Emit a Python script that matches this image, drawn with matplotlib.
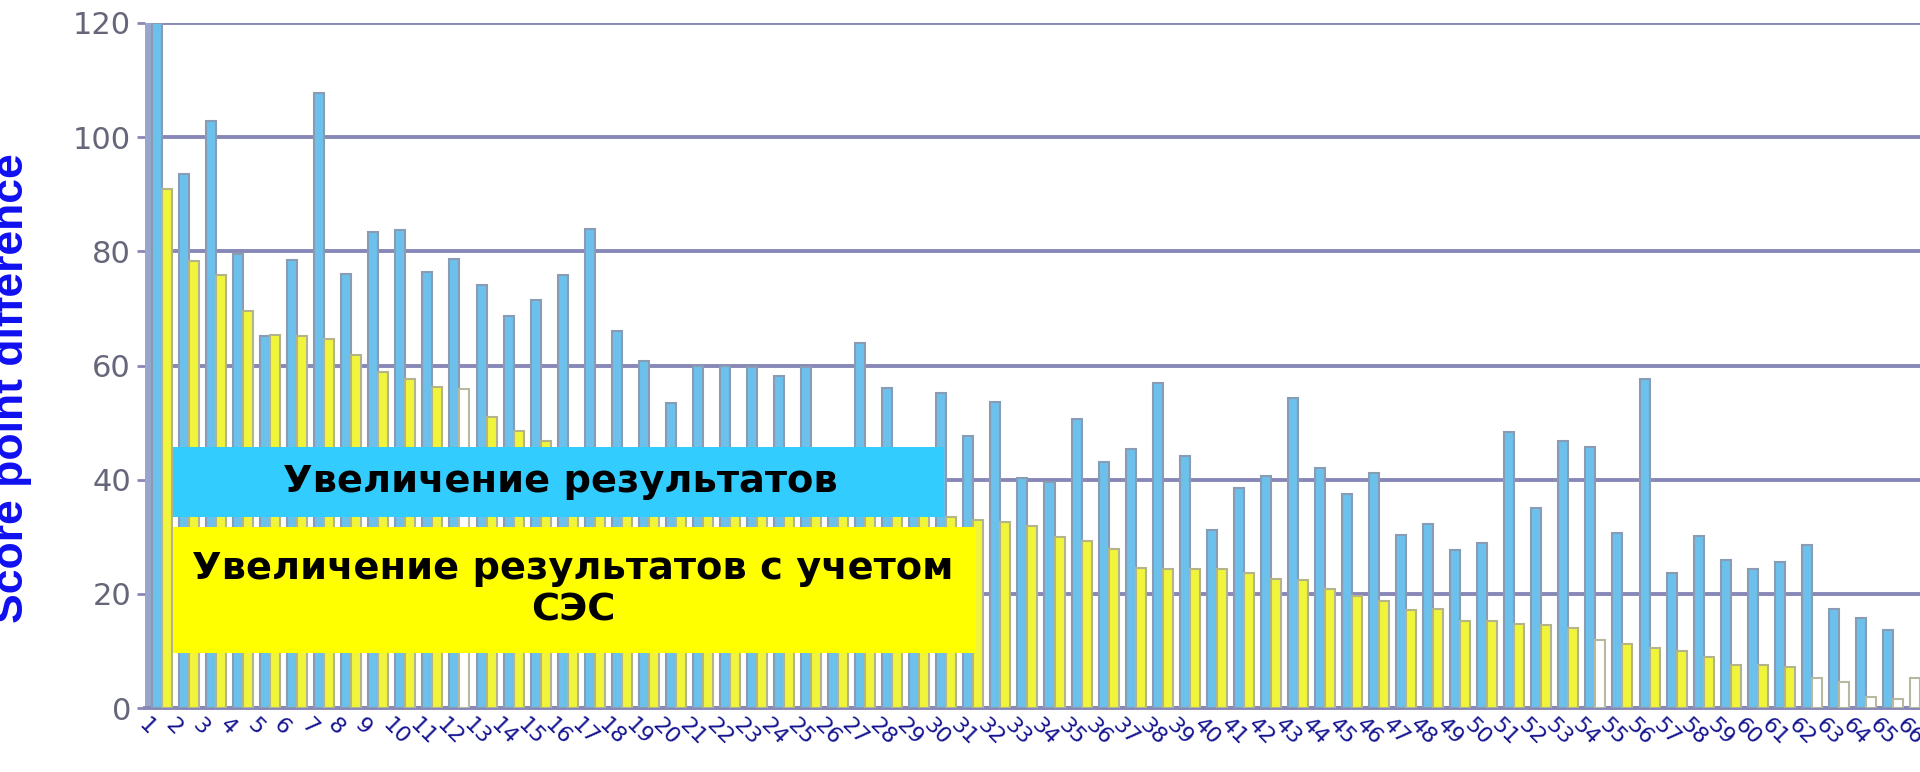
import numpy as np
import matplotlib.pyplot as plt
import matplotlib.transforms as mtransforms
from matplotlib.patches import Rectangle

# categories 1..66 (sorted by the SES-adjusted gain)
categories = [str(i) for i in range(1, 67)]

# blue series: score gain
gain = [120, 93.6, 102.8, 79.6, 65.1, 78.5, 107.8, 76.0, 83.4, 83.7,
        76.4, 78.7, 74.1, 68.7, 71.4, 75.9, 84.0, 66.1, 60.8, 53.4,
        59.9, 59.9, 59.8, 58.2, 59.8, 43.0, 64.0, 56.0, 41.0, 55.2,
        47.6, 53.6, 40.3, 39.6, 50.7, 43.1, 45.3, 56.9, 44.2, 31.2,
        38.6, 40.7, 54.3, 42.0, 37.5, 41.2, 30.3, 32.3, 27.7, 28.9,
        48.3, 35.1, 46.7, 45.7, 30.6, 57.6, 23.7, 30.2, 26.0, 24.3,
        25.5, 28.5, 17.4, 15.8, 13.7, 5.2]

# yellow series: gain adjusted for SES
gain_ses = [90.9, 78.3, 75.9, 69.6, 65.3, 65.1, 64.6, 61.9, 58.8, 57.7,
            56.3, 55.8, 50.9, 48.6, 46.7, 45.0, 44.5, 44.0, 43.0, 42.0,
            41.0, 40.0, 39.0, 38.0, 37.2, 36.4, 35.6, 34.8, 34.2, 33.5,
            32.9, 32.6, 31.9, 29.9, 29.3, 27.8, 24.6, 24.3, 24.3, 24.3,
            23.7, 22.6, 22.4, 20.9, 19.7, 18.8, 17.2, 17.4, 15.3, 15.3,
            14.7, 14.5, 14.0, 11.9, 11.2, 10.5, 9.9, 8.9, 7.6, 7.6,
            7.1, 5.3, 4.6, 1.9, 1.6, 1.5]

# bars drawn hollow (not significant)
hollow_gain = ['66']
hollow_ses = ['12', '54', '62', '63', '64', '65', '66']

legend_gain = 'Увеличение результатов'
legend_ses = 'Увеличение результатов с учетом\nСЭС'
y_label = 'Score point difference'
y_ticks = [0, 20, 40, 60, 80, 100, 120]

W, H = 1920, 772
fig = plt.figure(figsize=(W / 100, H / 100), dpi=100)
ax = fig.add_axes([145 / W, (H - 708) / H, 1 - 145 / W, (708 - 23) / H])

x = np.arange(1, len(categories) + 1)
w = 0.37
grid_col = '#8888b8'

blue_face = ['white' if c in hollow_gain else '#6cc0ec' for c in categories]
blue_edge = ['#b8b8a0' if c in hollow_gain else '#8a9cb4' for c in categories]
yel_face = ['white' if c in hollow_ses else '#f0f53c' for c in categories]
yel_edge = ['#b8b8a0' if c in hollow_ses else '#b4b48c' for c in categories]

ax.bar(x - w / 2, gain, w, color=blue_face, edgecolor=blue_edge, linewidth=1.5, zorder=3)
ax.bar(x + w / 2, gain_ses, w, color=yel_face, edgecolor=yel_edge, linewidth=1.5, zorder=3)

x0 = 1 - 17 / 27.1
ax.set_xlim(x0, 1 + (W - 162) / 27.1)
ax.set_ylim(0, 120)
# left "wall"
ax.axvspan(x0, 1 - w, color='#98a6cc', zorder=2)

ax.set_yticks(y_ticks)
ax.yaxis.grid(True, color=grid_col, linewidth=2.8, zorder=0)
ax.set_axisbelow(True)
for s in ['top', 'right', 'left']:
    ax.spines[s].set_visible(False)
ax.spines['bottom'].set_color(grid_col)
ax.spines['bottom'].set_linewidth(2.8)
ax.tick_params(axis='y', length=6, width=2, color=grid_col, pad=4,
               labelsize=22, labelcolor='#66667a')
ax.tick_params(axis='x', length=0, pad=5, labelsize=16, labelcolor='#141490')
ax.set_xticks(x)
ax.set_xticklabels(categories, rotation=-45, ha='left', rotation_mode='anchor')
shift = mtransforms.ScaledTranslation(-0.13, 0, fig.dpi_scale_trans)
for lab in ax.get_xticklabels():
    lab.set_transform(lab.get_transform() + shift)

fig.text(12 / W, 0.497, y_label, rotation=90, ha='center', va='center',
         fontsize=32, fontweight='bold', color='#1010f0', family='Liberation Sans')

# legend boxes
def box(x1, y1, x2, y2, col):
    fig.patches.append(Rectangle((x1 / W, (H - y2) / H), (x2 - x1) / W, (y2 - y1) / H,
                                 transform=fig.transFigure, facecolor=col,
                                 edgecolor='none', zorder=10))

box(173, 447, 944, 517, '#33ccff')
box(173, 527, 976, 653, '#ffff00')
fig.text(560 / W, (H - 482) / H, legend_gain, ha='center', va='center',
         fontsize=27.6, fontweight='bold', family='DejaVu Sans', zorder=11)
fig.text(573 / W, (H - 590) / H, legend_ses, ha='center', va='center',
         fontsize=27.6, fontweight='bold', family='DejaVu Sans', zorder=11,
         linespacing=1.2)

fig.savefig('out.png', dpi=100)
